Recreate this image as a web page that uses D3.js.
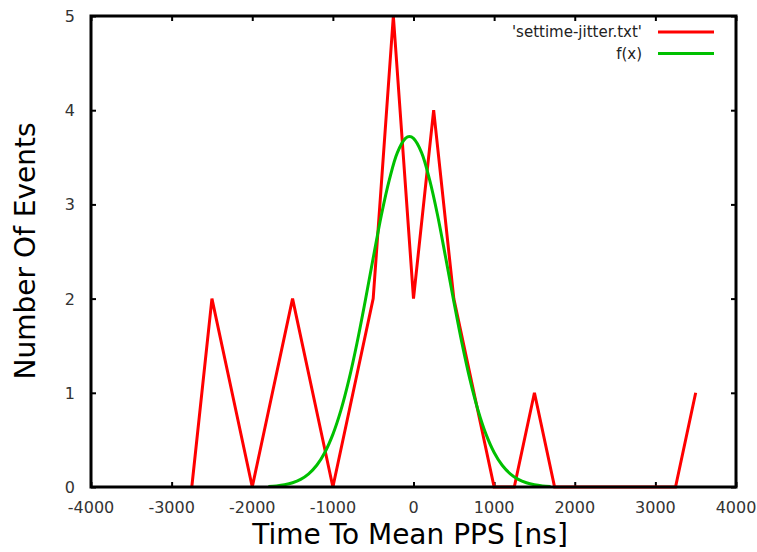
<!DOCTYPE html>
<html>
<head>
<meta charset="utf-8">
<script src="https://cdn.jsdelivr.net/npm/d3@7"></script>
<style>
  body { margin: 0; background: #fff; }
  text { font-family: "DejaVu Sans", sans-serif; }
</style>
</head>
<body>
<div id="chart"></div>
<script>
// histogram of settime jitter, 250 ns bins
var binX = [-2750, -2500, -2250, -2000, -1750, -1500, -1250, -1000, -750, -500, -250, 0, 250, 500, 750, 1000, 1250, 1500, 1750, 2000, 2250, 2500, 2750, 3000, 3250, 3500];
var binCount = [0, 2, 1, 0, 1, 2, 1, 0, 1, 2, 5, 2, 4, 2, 1, 0, 0, 1, 0, 0, 0, 0, 0, 0, 0, 1];

// fitted curve f(x)
var fitX = [-1800, -1700, -1600, -1500, -1400, -1300, -1200, -1100, -1000, -900, -800, -700, -600, -500, -400, -300, -200, -100, -50, 0, 100, 200, 300, 400, 500, 600, 700, 800, 900, 1000, 1100, 1200, 1300, 1400, 1500, 1600, 1700];
var fitY = [0.006, 0.012, 0.024, 0.045, 0.081, 0.14, 0.231, 0.367, 0.559, 0.816, 1.142, 1.532, 1.97, 2.43, 2.88, 3.26, 3.55, 3.70, 3.72, 3.70, 3.55, 3.26, 2.88, 2.43, 1.97, 1.532, 1.142, 0.816, 0.559, 0.367, 0.231, 0.14, 0.081, 0.045, 0.024, 0.012, 0.006];

var xTicks = [-4000, -3000, -2000, -1000, 0, 1000, 2000, 3000, 4000];
var yTicks = [0, 1, 2, 3, 4, 5];
var seriesNames = ["'settime-jitter.txt'", "f(x)"];
var seriesColors = ["#ff0000", "#00c000"];

var W = 757, H = 552;
var margin = {left: 91, right: 21, top: 16, bottom: 65};

var svg = d3.select("#chart").append("svg")
    .attr("width", W)
    .attr("height", H);

var x = d3.scaleLinear().domain([-4000, 4000]).range([margin.left, W - margin.right]);
var y = d3.scaleLinear().domain([0, 5]).range([H - margin.bottom, margin.top]);

// ticks, mirrored on all four sides, pointing inward
var tickLen = 5;
svg.append("g")
    .attr("transform", "translate(0," + y(0) + ")")
    .call(d3.axisBottom(x).tickValues(xTicks).tickSize(-tickLen).tickFormat(""))
    .call(function(g) { g.select(".domain").remove(); });
svg.append("g")
    .attr("transform", "translate(0," + y(5) + ")")
    .call(d3.axisTop(x).tickValues(xTicks).tickSize(-tickLen).tickFormat(""))
    .call(function(g) { g.select(".domain").remove(); });
svg.append("g")
    .attr("transform", "translate(" + x(-4000) + ",0)")
    .call(d3.axisLeft(y).tickValues(yTicks).tickSize(-tickLen).tickFormat(""))
    .call(function(g) { g.select(".domain").remove(); });
svg.append("g")
    .attr("transform", "translate(" + x(4000) + ",0)")
    .call(d3.axisRight(y).tickValues(yTicks).tickSize(-tickLen).tickFormat(""))
    .call(function(g) { g.select(".domain").remove(); });
svg.selectAll(".tick line").attr("stroke", "#000").attr("stroke-width", 2);

// tick labels
svg.append("g").selectAll("text")
    .data(xTicks)
    .enter().append("text")
    .attr("x", function(d) { return x(d); })
    .attr("y", y(0) + 26)
    .attr("text-anchor", "middle")
    .attr("font-size", 16)
    .attr("fill", "#333")
    .text(function(d) { return d; });

svg.append("g").selectAll("text")
    .data(yTicks)
    .enter().append("text")
    .attr("x", x(-4000) - 16)
    .attr("y", function(d) { return y(d) + 6; })
    .attr("text-anchor", "end")
    .attr("font-size", 16)
    .attr("fill", "#333")
    .text(function(d) { return d; });

var histLine = d3.line()
    .x(function(d, i) { return x(binX[i]); })
    .y(function(d) { return y(d); });

var fitLine = d3.line()
    .x(function(d, i) { return x(fitX[i]); })
    .y(function(d) { return y(d); })
    .curve(d3.curveCatmullRom);

svg.append("path")
    .attr("d", histLine(binCount))
    .attr("fill", "none")
    .attr("stroke", seriesColors[0])
    .attr("stroke-width", 3)
    .attr("stroke-linejoin", "miter");

svg.append("path")
    .attr("d", fitLine(fitY))
    .attr("fill", "none")
    .attr("stroke", seriesColors[1])
    .attr("stroke-width", 3);

// border
svg.append("rect")
    .attr("x", margin.left)
    .attr("y", margin.top)
    .attr("width", W - margin.left - margin.right)
    .attr("height", H - margin.top - margin.bottom)
    .attr("fill", "none")
    .attr("stroke", "#000")
    .attr("stroke-width", 3);

// legend
var legend = svg.append("g").selectAll("g")
    .data(seriesNames)
    .enter().append("g")
    .attr("transform", function(d, i) { return "translate(0," + (32 + i * 21.5) + ")"; });
legend.append("text")
    .attr("x", 642)
    .attr("y", 5)
    .attr("text-anchor", "end")
    .attr("font-size", 15)
    .attr("fill", "#222")
    .text(function(d) { return d; });
legend.append("line")
    .attr("x1", 658).attr("x2", 714)
    .attr("y1", 0).attr("y2", 0)
    .attr("stroke", function(d, i) { return seriesColors[i]; })
    .attr("stroke-width", 3);

// axis titles
svg.append("text")
    .attr("x", 410)
    .attr("y", 544)
    .attr("text-anchor", "middle")
    .attr("font-size", 28)
    .attr("fill", "#000")
    .text("Time To Mean PPS [ns]");

svg.append("text")
    .attr("transform", "translate(35," + 251 + ") rotate(-90)")
    .attr("text-anchor", "middle")
    .attr("font-size", 28)
    .attr("fill", "#000")
    .text("Number Of Events");
</script>
</body>
</html>
